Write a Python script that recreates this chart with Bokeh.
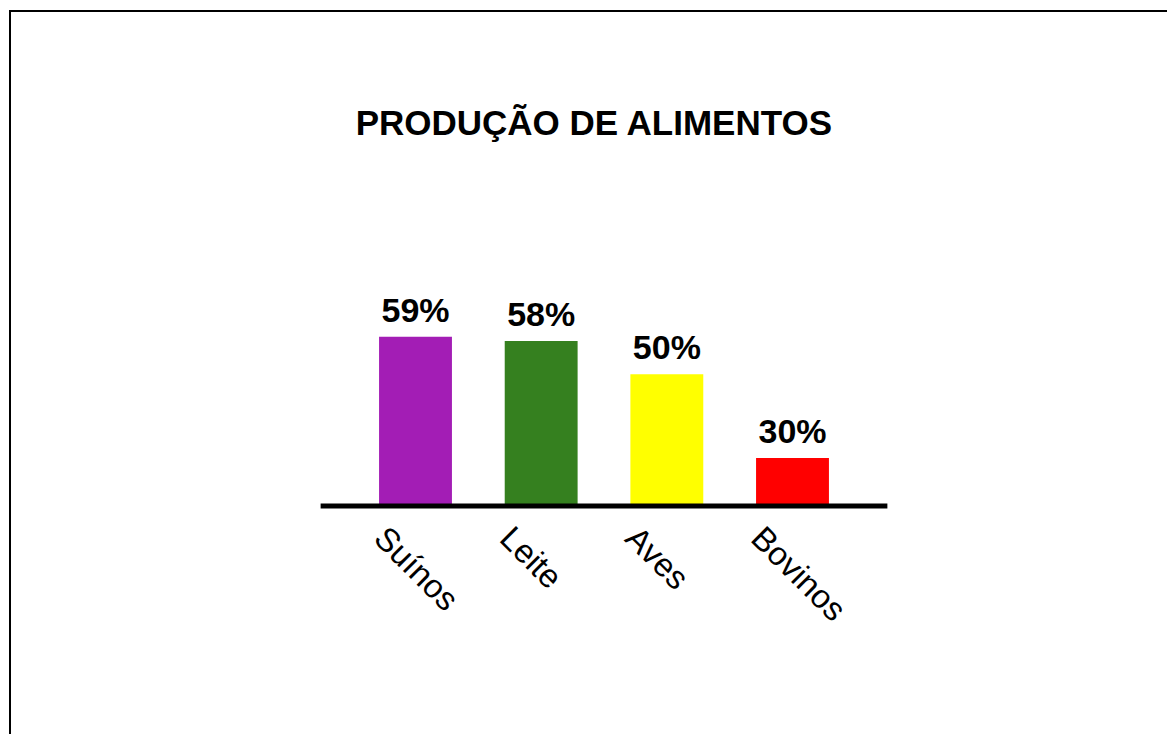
import math
from bokeh.plotting import figure
from bokeh.models import FactorRange, Range1d, Label, ColumnDataSource
from bokeh.core.properties import value
from bokeh.embed import file_html
from bokeh.resources import INLINE

# ---- data ----
title_text = "PRODUÇÃO DE ALIMENTOS"
categories = ["Suínos", "Leite", "Aves", "Bovinos"]
values = [59, 58, 50, 30]
value_labels = ["59%", "58%", "50%", "30%"]
colors = ["#A31DB5", "#35801F", "#FFFF00", "#FF0000"]

# ---- layout constants ----
W, H = 1158, 724
BASE = 18.5          # value at which the (truncated) baseline sits
K = 4.18             # pixels per percentage point
BASE_PX_FROM_BOTTOM = 230.5
y_start = BASE - BASE_PX_FROM_BOTTOM / K
y_end = y_start + H / K

src = ColumnDataSource(dict(cat=categories, val=values, lab=value_labels, col=colors,
                            base=[BASE] * len(categories)))

p = figure(
    width=W, height=H,
    x_range=FactorRange(factors=categories, range_padding=2.5, range_padding_units="absolute"),
    y_range=Range1d(y_start, y_end),
    output_backend="svg", toolbar_location=None, tools="",
    x_axis_location=None, y_axis_location=None,
    min_border_left=27, min_border_right=0, min_border_top=0, min_border_bottom=0,
    title=None,
)
p.grid.visible = False
p.outline_line_color = None
p.background_fill_color = "white"
p.border_fill_color = "white"
p.styles = {"margin-top": "10px", "margin-left": "9px",
            "border-top": "2px solid black", "border-left": "2px solid black"}

# bars
p.vbar(x="cat", top="val", bottom="base", width=0.58, fill_color="col",
       line_color=None, source=src)

# baseline
p.segment(x0=[(categories[0], -0.755)], x1=[(categories[-1], 0.755)],
          y0=[BASE], y1=[BASE], line_width=5, line_color="black", line_cap="butt")

# value labels
p.text(x="cat", y="val", text="lab", source=src, text_align="center",
       text_baseline="bottom", y_offset=-8,
       text_font=value("Liberation Sans"), text_font_style="bold",
       text_font_size="34px", text_color="black")

# category labels (rotated)
p.text(x="cat", y="base", text="cat", source=src, angle=-math.pi / 4,
       text_align="left", text_baseline="top", x_offset=-22, y_offset=13,
       text_font=value("Liberation Sans"), text_font_size="33px", text_color="black")

# title
p.add_layout(Label(x=556, y=614, x_units="screen", y_units="screen", text=title_text,
                   text_align="center", text_baseline="alphabetic",
                   text_font="Liberation Sans", text_font_style="bold",
                   text_font_size="35px", text_color="black"))

open("out.html", "w").write(file_html(p, INLINE))
